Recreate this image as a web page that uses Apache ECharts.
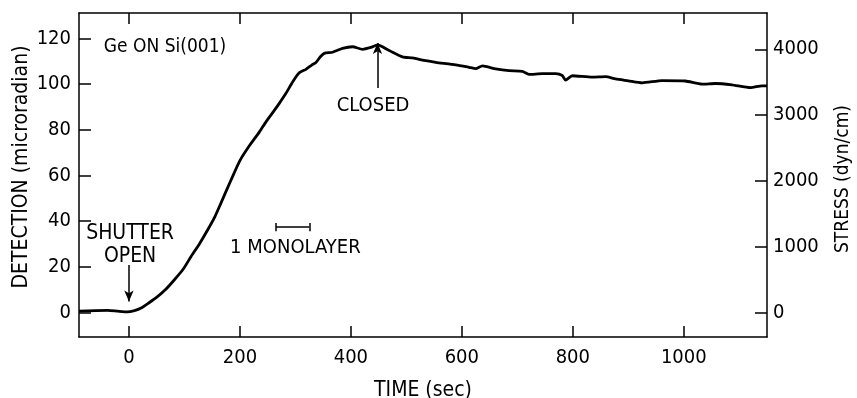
<!DOCTYPE html>
<html>
<head>
<meta charset="utf-8">
<title>Ge on Si(001) stress</title>
<script src="https://cdn.jsdelivr.net/npm/echarts@6/dist/echarts.min.js"></script>
<style>
  html, body { margin: 0; padding: 0; background: #fff; }
  #chart-content { width: 857px; height: 398px; }
</style>
</head>
<body>
<div id="chart-content"></div>
<script>
// time since shutter opened (sec) and detected deflection (microradian)
var timeSec = [-90, -60, -38, -20, -3, 10, 22, 35, 52, 66,
  82, 98, 112, 127, 142, 155, 166, 184, 200, 217,
  235, 247, 262, 271, 283, 295, 307, 319, 330, 337,
  345, 352, 367, 385, 403, 421, 436, 448, 469, 493,
  511, 535, 553, 589, 613, 625, 637, 661, 685, 709,
  721, 745, 769, 781, 787, 799, 835, 859, 877, 900,
  925, 961, 1003, 1033, 1057, 1087, 1120, 1141, 1150];
var detection = [0.5, 0.8, 0.9, 0.5, 0.2, 0.8, 1.9, 4, 7, 10,
  14.3, 19, 24.5, 30, 36.2, 42, 48, 58, 66.5, 73,
  79, 83.5, 88.5, 91.6, 96, 101, 105, 106.5, 108.5, 109.5,
  112, 113.5, 114, 115.7, 116.4, 115.3, 116.1, 117.2, 114.8, 112,
  111.5, 110.3, 109.6, 108.5, 107.4, 106.8, 108, 106.7, 105.9, 105.6,
  104.3, 104.6, 104.6, 103.8, 101.8, 103.7, 103.1, 103.3, 102.3, 101.5,
  100.6, 101.6, 101.4, 100, 100.3, 99.7, 98.5, 99.3, 99.3];

var timeTicks = [0, 200, 400, 600, 800, 1000];
var detectionTicks = [0, 20, 40, 60, 80, 100, 120];
var stressTicks = [0, 1000, 2000, 3000, 4000];

var FONT = "'DejaVu Sans Condensed', 'Liberation Sans', sans-serif";
var INK = "#000";

var curve = timeSec.map(function (t, i) { return [t, detection[i]]; });

var myChart = echarts.init(document.getElementById("chart-content"));

function frameAxis(extra) {
  var base = {
    axisLine: { show: true, onZero: false, lineStyle: { color: INK, width: 1.5 } },
    axisTick: { show: true, inside: true, length: 12, lineStyle: { color: INK, width: 1.5 } },
    axisLabel: { color: INK, fontSize: 20, fontFamily: FONT, formatter: function (v) { return String(v); } },
    splitLine: { show: false }
  };
  return echarts.util.merge(base, extra, true);
}

var option = {
  animation: false,
  textStyle: { fontFamily: FONT, color: INK },
  grid: { left: 79, right: 90, top: 13, bottom: 61, outerBoundsMode: "none", containLabel: false },
  xAxis: [
    frameAxis({
      type: "value", position: "bottom", min: -90, max: 1150,
      axisTick: { customValues: timeTicks, length: 11 },
      axisLabel: { customValues: timeTicks, margin: 11 },
      name: "TIME (sec)", nameLocation: "middle", nameGap: 43, nameMoveOverlap: false,
      nameTextStyle: { fontSize: 21, fontFamily: FONT, color: INK }
    }),
    frameAxis({
      type: "value", position: "top", min: -90, max: 1150,
      axisTick: { customValues: timeTicks, length: 11 },
      axisLabel: { show: false }
    })
  ],
  yAxis: [
    frameAxis({
      type: "value", position: "left", min: -10.8, max: 131.2,
      axisTick: { customValues: detectionTicks },
      axisLabel: { customValues: detectionTicks, margin: 8 },
      name: "DETECTION (microradian)", nameLocation: "middle", nameGap: 47, nameRotate: 90,
      nameMoveOverlap: false,
      nameTextStyle: { fontSize: 21, fontFamily: FONT, color: INK, padding: [0, 0, 0, 16] }
    }),
    frameAxis({
      type: "value", position: "right", min: -365, max: 4550,
      axisTick: { customValues: stressTicks },
      axisLabel: { customValues: stressTicks, margin: 6 },
      name: "STRESS (dyn/cm)", nameLocation: "middle", nameGap: 67, nameRotate: 90,
      nameMoveOverlap: false,
      nameTextStyle: { fontSize: 19, fontFamily: FONT, color: INK, padding: [0, 8, 0, 0] }
    })
  ],
  series: [
    {
      name: "Detection",
      type: "line",
      data: curve,
      showSymbol: false,
      smooth: 0.2,
      lineStyle: { color: INK, width: 2.8 },
      silent: true,
      markLine: {
        silent: true,
        symbol: ["none", "arrow"],
        symbolSize: [7, 11],
        label: { show: false },
        lineStyle: { color: INK, width: 1.5, type: "solid" },
        data: [
          [{ coord: [0, 20.8] }, { coord: [0, 4.8] }],
          [{ coord: [448, 98.3] }, { coord: [448, 118] }],
          [{ coord: [265, 37.4], symbol: "none" }, { coord: [325, 37.4], symbol: "none" }],
          [{ coord: [265, 35.5], symbol: "none" }, { coord: [265, 39.2], symbol: "none" }],
          [{ coord: [325, 35.5], symbol: "none" }, { coord: [325, 39.2], symbol: "none" }]
        ]
      }
    },
    {
      name: "Notes",
      type: "scatter",
      silent: true,
      symbolSize: 1,
      itemStyle: { color: "rgba(0,0,0,0)" },
      label: {
        show: true, position: "inside", color: INK, fontSize: 20, fontFamily: FONT,
        textBorderWidth: 0, opacity: 1,
        lineHeight: 23, align: "center", verticalAlign: "middle",
        formatter: function (p) { return p.data.text; }
      },
      data: [
        { value: [65, 116.4], text: "Ge ON Si(001)", label: { fontSize: 19 } },
        { value: [2, 29.6], text: "SHUTTER\nOPEN", label: { fontSize: 21 } },
        { value: [300, 28.2], text: "1 MONOLAYER" },
        { value: [440, 90.6], text: "CLOSED" }
      ]
    }
  ]
};

myChart.setOption(option);
</script>
</body>
</html>
